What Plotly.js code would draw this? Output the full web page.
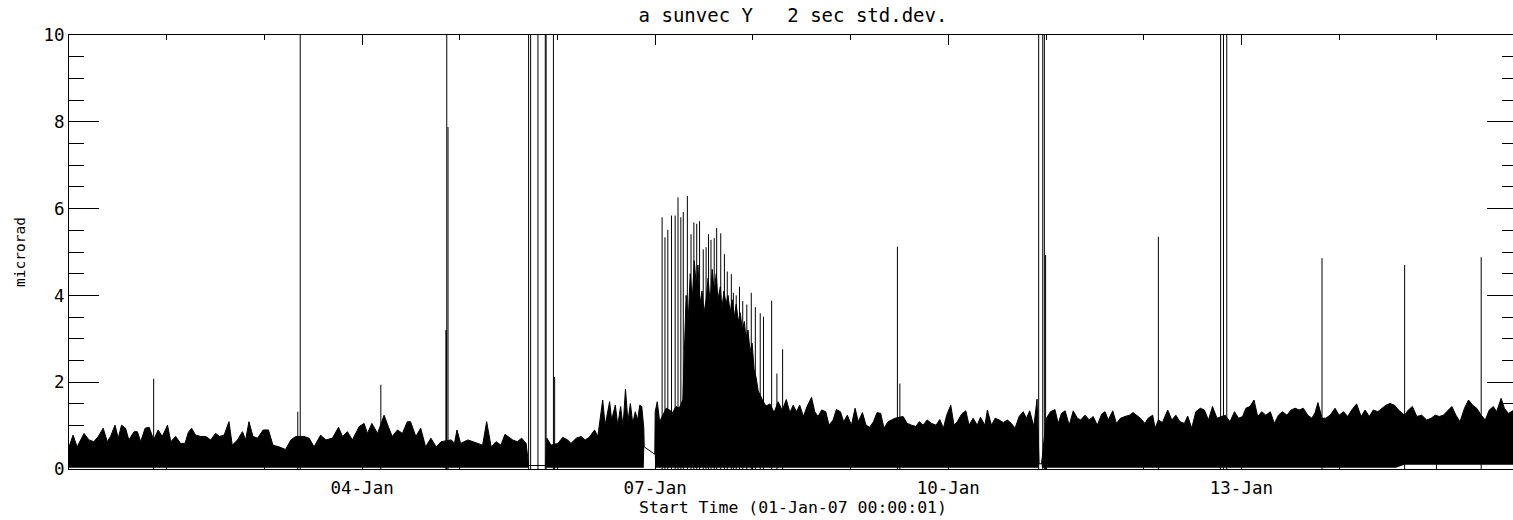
<!DOCTYPE html>
<html>
<head>
<meta charset="utf-8">
<script src="https://cdn.plot.ly/plotly-3.0.1.min.js"></script>
<style>
html,body{margin:0;padding:0;overflow:hidden;background:#fff;}
#chart{width:1517px;height:520px;}
</style>
</head>
<body>
<div id="chart"></div>
<script>
// Start of the time axis: 01-Jan-07 00:00:01; all times below are hours since then.
const startTime = '2007-01-01T00:00:01Z';
const endHours = 355.7;

// Upper edge of the dense 2-sec std.dev. band (hours, microrad)
const bandHours = [
0.0,1.0,2.0,3.7,4.9,6.1,7.2,8.4,9.4,10.2,11.3,12.1,12.9,13.9,14.7,16.0,16.8,17.6,18.7,19.7,
20.8,21.9,22.9,24.2,25.0,26.2,27.4,28.5,29.3,30.1,31.1,32.4,33.6,34.8,36.0,37.0,38.1,39.3,40.1,41.4,
42.6,43.4,44.2,45.2,46.3,47.7,49.0,50.1,51.6,53.2,54.5,55.7,57.7,59.0,60.2,61.8,63.1,64.7,66.2,67.2,
68.4,69.6,71.3,72.5,73.3,74.4,75.8,77.4,78.5,79.4,80.7,81.9,83.1,83.9,85.2,86.4,87.6,88.9,90.2,91.4,
93.9,94.7,95.3,96.2,98.0,99.2,100.4,101.6,102.6,103.7,104.9,106.1,107.1,107.9,109.0,110.1,111.2,112.3,
112.9,117.1,117.4,118.4,120.1,121.3,122.5,123.3,124.6,125.8,126.8,127.8,129.1,129.9,130.5,131.1,131.7,
132.8,133.3,134.2,134.8,135.5,136.1,136.7,137.3,137.9,138.5,139.1,139.7,140.2,140.7,141.2,141.3,143.9,
144.0,144.5,145.1,145.9,146.7,147.5,148.3,149.1,149.9,150.8,
151.6,152.1,152.6,153.1,153.6,154.1,154.5,155.0,155.5,156.0,156.5,157.0,157.5,158.0,158.5,159.0,159.4,
160.0,160.4,160.9,161.4,161.9,162.4,162.9,163.4,163.9,164.4,164.9,165.4,165.9,166.3,166.8,167.3,167.8,
168.3,168.8,169.3,170.3,171.2,172.2,173.2,174.2,
175.2,176.2,177.1,177.9,178.7,179.5,180.4,181.3,182.4,183.2,184.0,184.9,185.9,186.7,187.7,188.5,189.5,
190.3,191.2,192.2,193.1,193.9,194.9,195.8,196.7,197.6,198.5,199.4,200.2,201.2,202.1,202.9,204.9,205.9,
207.0,208.0,208.9,209.8,210.8,211.9,213.0,213.9,214.8,215.6,216.6,217.4,218.2,219.3,220.3,221.1,222.1,
223.1,223.9,225.0,225.6,226.6,227.5,228.5,229.5,230.5,231.5,232.4,233.4,234.4,235.2,236.0,237.0,237.8,
238.3,238.9,240.1,241.1,242.2,243.0,243.8,244.7,245.7,246.7,247.7,248.5,249.6,250.6,251.6,252.6,253.7,
254.5,255.3,256.4,257.3,258.3,259.4,260.5,261.4,262.3,263.2,264.3,265.1,266.2,266.8,267.6,268.6,269.9,
270.9,271.9,272.9,274.0,274.8,275.8,276.8,277.9,278.9,279.9,280.9,282.0,284.0,285.2,286.3,287.3,288.3,
289.1,290.1,291.1,292.0,293.0,294.0,295.1,296.1,297.1,298.1,299.2,300.2,301.2,302.2,303.2,304.3,305.3,
306.1,306.8,307.8,308.7,309.8,311.0,312.0,313.1,314.1,315.1,316.3,317.4,318.4,319.4,320.4,321.5,322.5,
323.5,324.5,325.6,326.6,328.1,329.0,330.0,331.1,332.3,333.5,334.6,335.6,336.6,337.6,338.7,339.7,340.7,
341.7,342.8,343.8,344.8,345.8,346.9,347.9,348.9,349.9,350.7,351.8,352.6,353.6,354.6,355.8
];
const bandValues = [
0.51,0.78,0.51,0.82,0.67,0.63,0.75,0.94,0.63,0.75,1.01,0.71,1.01,0.94,0.67,0.86,0.86,0.63,0.94,0.96,
0.67,0.90,0.75,1.01,0.63,0.75,0.59,0.59,0.84,0.94,0.78,0.75,0.75,0.67,0.82,0.75,0.78,1.09,0.55,0.67,
0.86,0.67,1.09,0.75,0.71,0.90,0.90,0.55,0.51,0.45,0.67,0.75,0.75,0.71,0.51,0.78,0.67,0.71,0.96,0.75,
0.86,0.67,0.98,1.05,0.82,1.05,0.82,1.24,0.96,0.75,0.90,0.82,1.09,1.09,0.75,0.94,0.51,0.71,0.51,0.63,
0.67,0.59,0.90,0.59,0.67,0.63,0.59,0.55,1.09,0.51,0.63,0.55,0.80,0.75,0.67,0.63,0.71,0.59,
0.08,0.08,0.71,0.55,0.59,0.73,0.67,0.59,0.71,0.75,0.67,0.73,0.90,0.75,1.19,1.59,1.01,
1.55,1.13,1.47,1.01,1.44,0.98,1.84,1.09,1.51,1.05,1.32,1.13,1.47,1.44,0.94,0.51,0.34,
1.32,1.55,1.09,1.24,1.40,1.36,1.30,1.44,1.40,1.60,
4.0,3.4,4.5,3.9,4.8,4.2,4.7,3.8,4.1,3.6,3.9,4.4,3.8,4.6,4.1,4.5,3.9,
4.2,3.7,4.1,3.8,4.0,3.6,3.9,3.5,3.8,3.4,3.6,3.2,3.4,3.0,3.2,2.7,2.9,
2.3,2.1,1.8,1.6,1.45,1.5,1.3,1.55,
1.35,1.6,1.3,1.47,1.32,1.47,1.21,1.44,1.65,1.32,1.21,1.36,1.32,1.01,1.13,1.37,1.32,
1.09,1.24,1.01,1.40,1.09,1.30,1.01,0.96,1.09,1.30,1.28,0.94,1.09,1.13,1.17,1.21,1.05,
1.01,0.98,1.09,1.01,1.13,1.05,1.01,1.14,0.94,1.24,1.47,1.01,1.09,1.27,1.34,1.01,1.17,
1.01,1.19,1.01,1.36,1.01,1.17,1.13,1.07,1.13,1.05,0.94,1.21,1.32,1.17,1.34,0.98,1.61,
0.12,0.12,1.17,1.32,1.37,1.05,1.28,1.34,1.01,1.34,1.17,1.13,1.24,1.13,1.21,1.01,1.27,
1.32,1.13,1.34,1.05,1.17,1.21,1.24,1.30,1.24,1.17,1.05,1.17,1.24,0.94,1.13,1.07,1.36,
1.13,1.24,1.09,1.05,1.22,0.94,1.32,1.40,1.36,1.13,1.44,1.17,1.24,1.09,1.32,1.17,1.21,
1.40,1.44,1.59,1.21,1.32,1.24,1.32,1.05,1.24,1.32,1.24,1.36,1.40,1.36,1.40,1.24,1.17,
1.30,1.53,1.17,1.17,1.24,1.40,1.24,1.32,1.21,1.36,1.50,1.21,1.36,1.21,1.36,1.32,1.40,
1.47,1.51,1.47,1.36,1.24,1.36,1.44,1.21,1.24,1.13,1.17,1.24,1.21,1.24,1.34,1.44,1.24,
1.09,1.40,1.59,1.47,1.40,1.24,1.13,1.36,1.44,1.32,1.63,1.40,1.28,1.34,1.30
];

// Lower edge of the band (hours, microrad)
const lowHours = [0.0,112.8,112.9,117.1,117.2,141.2,141.3,143.9,144.0,238.2,238.3,238.9,239.0,326.0,328.0,355.8];
const lowValues = [0.03,0.03,0.08,0.08,0.03,0.03,0.51,0.34,0.03,0.03,0.12,0.12,0.03,0.03,0.10,0.10];

// Isolated spikes (hours, microrad); values above 10 run off the top of the plot
const spikeHours = [
20.8,56.2,56.8,76.6,92.6,92.7,92.8,93.1,112.9,113.4,115.2,117.0,117.2,119.0,119.3,
145.7,146.4,147.1,148.0,148.9,149.6,150.3,150.9,151.9,152.8,153.5,154.2,154.9,155.8,156.5,157.1,157.7,
158.5,159.1,160.1,161.0,161.7,162.7,163.2,163.9,164.7,165.5,166.5,167.6,168.6,169.8,170.6,172.6,173.9,175.3,
203.5,204.1,238.2,239.2,239.6,239.9,267.6,282.9,283.6,284.4,307.8,328.1,346.9
];
const spikeValues = [
2.08,1.32,10.5,1.94,3.2,3.2,10.5,7.88,10.5,10.5,10.5,10.5,10.5,10.5,2.12,
5.80,5.34,5.51,5.84,5.84,6.26,5.80,5.92,6.29,5.41,5.68,5.65,5.71,5.06,5.11,5.41,5.28,
5.32,5.55,5.43,4.95,4.55,4.49,4.06,4.00,4.20,3.87,3.79,4.06,3.73,3.59,3.51,3.88,2.20,2.76,
5.12,1.97,10.5,10.5,10.5,4.93,5.35,10.5,10.5,10.5,4.86,4.70,4.88
];

const xTickDates = ['2007-01-04','2007-01-07','2007-01-10','2007-01-13'];
const xTickLabels = ['04-Jan','07-Jan','10-Jan','13-Jan'];
const yTickValues = [0,2,4,6,8,10];

const t0 = Date.parse(startTime);
function toDate(h){ return new Date(t0 + h*3600000).toISOString().replace('T',' ').replace('Z',''); }

const spikeX = [], spikeY = [];
spikeHours.forEach((h,i)=>{ const d = toDate(h); spikeX.push(d,d,null); spikeY.push(0,spikeValues[i],null); });

const FONT = 'DejaVu Sans Mono, monospace';

const traces = [
  {x: lowHours.map(toDate), y: lowValues, mode:'lines', line:{width:0,color:'#000'}, hoverinfo:'skip'},
  {x: bandHours.map(toDate), y: bandValues, mode:'lines', fill:'tonexty', fillcolor:'#000', line:{width:1,color:'#000'}},
  {x: spikeX, y: spikeY, mode:'lines', line:{width:1,color:'#000'}, connectgaps:false}
];

const layout = {
  width:1517, height:520,
  margin:{l:69, r:0, t:35, b:51},
  paper_bgcolor:'#fff', plot_bgcolor:'#fff',
  showlegend:false,
  font:{family:FONT, color:'#000', size:16},
  title:{text:'a sunvec Y\u00a0\u00a0\u00a02 sec std.dev.', xref:'paper', x:0.5, xanchor:'center', yref:'container', y:0.970, yanchor:'middle', font:{family:FONT, size:19, color:'#000'}},
  xaxis:{
    type:'date',
    range:[toDate(0), toDate(endHours)],
    tickvals: xTickDates, ticktext: xTickLabels,
    ticks:'inside', ticklen:10, tickwidth:1, tickcolor:'#000',
    ticklabelstandoff:3,
    minor:{dtick:86400000, tick0:'2007-01-01', ticks:'inside', ticklen:5, tickcolor:'#000', showgrid:false},
    showline:true, linecolor:'#000', linewidth:1, mirror:'ticks',
    showgrid:false, zeroline:false,
    tickfont:{family:FONT, size:17.5, color:'#000'},
    title:{text:'Start Time (01-Jan-07 00:00:01)', font:{family:FONT, size:16.5, color:'#000'}, standoff:4}
  },
  yaxis:{
    range:[0,10],
    tickvals: yTickValues,
    ticks:'inside', ticklen:30, tickwidth:1, tickcolor:'#000',
    minor:{dtick:0.5, tick0:0, ticks:'inside', ticklen:15, tickcolor:'#000', showgrid:false},
    showline:true, linecolor:'#000', linewidth:1, mirror:'ticks',
    showgrid:false, zeroline:false,
    tickfont:{family:FONT, size:17.5, color:'#000'},
    title:{text:'microrad', font:{family:FONT, size:14.5, color:'#000'}, standoff:14}
  }
};

Plotly.newPlot('chart', traces, layout, {displayModeBar:false, staticPlot:true});
</script>
</body>
</html>
